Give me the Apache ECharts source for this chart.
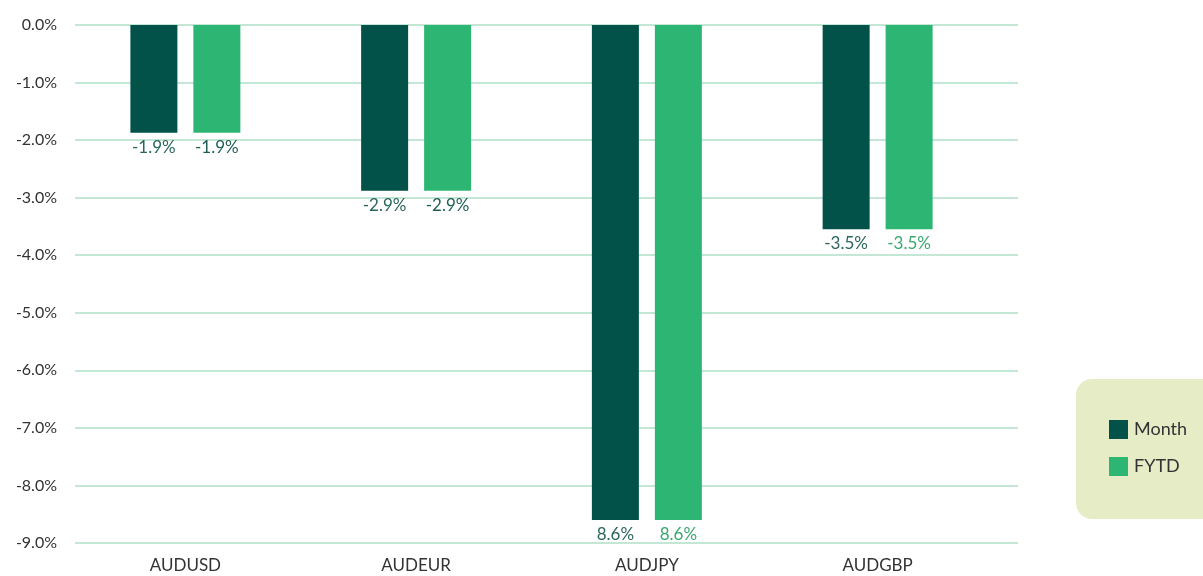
<!DOCTYPE html>
<html><head><meta charset="utf-8">
<script src="https://cdn.jsdelivr.net/npm/echarts@6/dist/echarts.min.js"></script>
<style>html,body{margin:0;padding:0;background:#fff}#c{width:1203px;height:576px}</style>
</head><body><div id="c"></div>
<script>
const categories = ['AUDUSD', 'AUDEUR', 'AUDJPY', 'AUDGBP'];
const monthValues = [-1.87, -2.88, -8.6, -3.55];
const fytdValues = [-1.87, -2.88, -8.6, -3.55];
const monthLabels = ['-1.9%', '-2.9%', '8.6%', '-3.5%'];
const fytdLabels = ['-1.9%', '-2.9%', '8.6%', '-3.5%'];
const fytdLabelColors = ['#1f5f57', '#1f5f57', '#3aa86e', '#3aa86e'];
const yTicks = { min: -9, max: 0, interval: 1 };

const FONT = 'Lato';
const chart = echarts.init(document.getElementById('c'));
chart.setOption({
  animation: false,
  textStyle: { fontFamily: FONT },
  graphic: [{
    type: 'rect', z: -1,
    shape: { x: 1076, y: 379, width: 150, height: 140, r: 16 },
    style: { fill: '#e6edc6' }
  }],
  legend: {
    orient: 'vertical', left: 1109, top: 420, padding: 0,
    icon: 'rect',
    itemWidth: 19, itemHeight: 19, itemGap: 18,
    textStyle: { fontFamily: FONT, fontSize: 18, color: '#333', padding: [0, 0, 0, 1] },
    data: ['Month', 'FYTD']
  },
  grid: [
    { left: 75, right: 185, top: 25, bottom: 33 },
    { left: 70, right: 210, top: 25, bottom: 33 }
  ],
  xAxis: [
    { type: 'category', gridIndex: 0, data: categories, show: false },
    { type: 'category', gridIndex: 1, data: categories,
      axisLine: { show: false }, axisTick: { show: false },
      axisLabel: { fontFamily: FONT, fontSize: 17, color: '#333', margin: 14 } }
  ],
  yAxis: [
    { type: 'value', gridIndex: 0, min: yTicks.min, max: yTicks.max, interval: yTicks.interval,
      axisLine: { show: false }, axisTick: { show: false },
      axisLabel: { fontFamily: FONT, fontSize: 16, color: '#333', margin: 18,
        formatter: v => v.toFixed(1) + '%' },
      splitLine: { lineStyle: { color: '#c3e6d5', width: 2 } } },
    { type: 'value', gridIndex: 1, min: yTicks.min, max: yTicks.max, interval: yTicks.interval, show: false }
  ],
  series: [
    { name: 'Month', type: 'bar', xAxisIndex: 1, yAxisIndex: 1,
      data: monthValues, barWidth: 47, barGap: '34%',
      itemStyle: { color: '#02524a' },
      label: { show: true, position: 'bottom', distance: 6, fontFamily: FONT, fontSize: 17, color: '#2a665e',
        formatter: p => monthLabels[p.dataIndex] } },
    { name: 'FYTD', type: 'bar', xAxisIndex: 1, yAxisIndex: 1,
      data: fytdValues.map((v, i) => ({ value: v, label: { color: fytdLabelColors[i] } })),
      barWidth: 47, barGap: '34%',
      itemStyle: { color: '#2db673' },
      label: { show: true, position: 'bottom', distance: 6, fontFamily: FONT, fontSize: 17,
        formatter: p => fytdLabels[p.dataIndex] } }
  ]
});
</script></body></html>
